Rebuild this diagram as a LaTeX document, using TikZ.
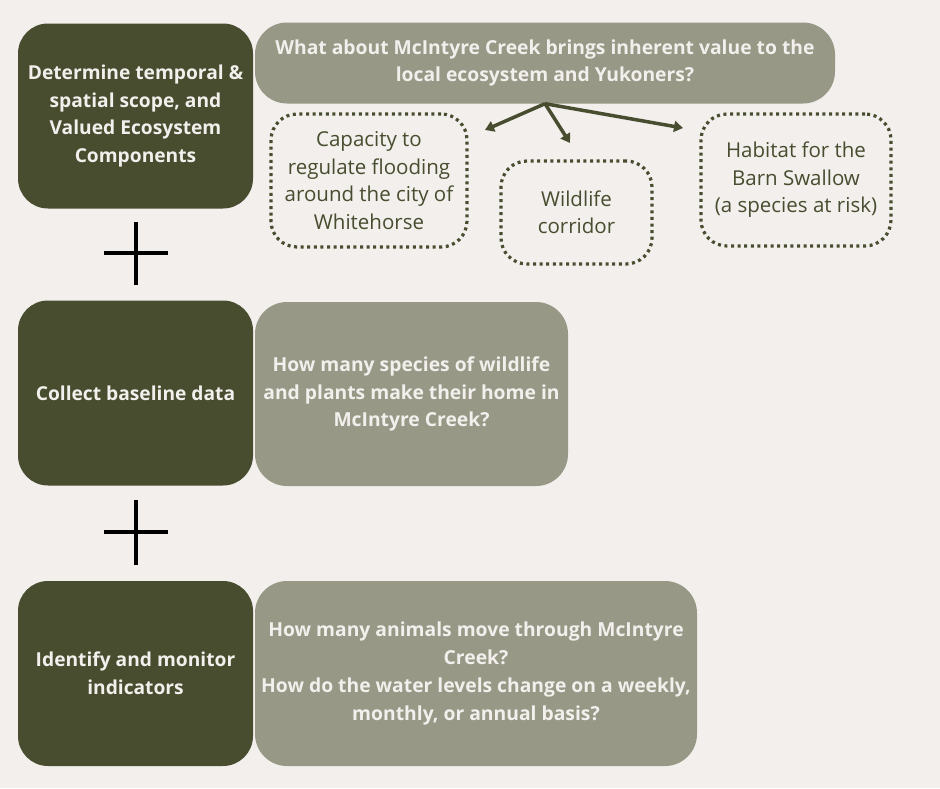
\documentclass[tikz,border=0pt]{standalone}
\usepackage{fontspec}
\setmainfont{Open Sans}
\usetikzlibrary{arrows.meta,positioning}
\definecolor{bgcream}{RGB}{242,239,236}
\definecolor{darkolive}{RGB}{71,77,46}
\definecolor{sagegrey}{RGB}{151,153,134}

\begin{document}
\begin{tikzpicture}[x=1pt, y=-1pt,
  stepbox/.style={fill=darkolive, rounded corners=30pt, minimum width=235pt, minimum height=185pt,
    inner sep=0pt, align=center, text=bgcream, font=\fontsize{19.2}{27.7}\selectfont\bfseries},
  question/.style={fill=sagegrey, rounded corners=32pt, inner sep=0pt, align=center,
    text=bgcream, font=\fontsize{19.3}{27.7}\selectfont\bfseries},
  valuebox/.style={draw=darkolive, line width=3.2pt, dash pattern=on 3pt off 3.6pt,
    rounded corners=26pt, inner sep=0pt, align=center, text=darkolive,
    font=\fontsize{20.5}{27.5}\selectfont},
  plus/.style={line width=3.2pt, black},
  >={Triangle[length=9pt, width=11pt]}
]
  % background
  \fill[bgcream] (0,0) rectangle (940,788);

  % Row 1
  \node[stepbox] (S1) at (135.5,116) {Determine temporal \&\\spatial scope, and\\Valued Ecosystem\\Components};
  \node[question, minimum width=580pt, minimum height=81pt] (Q1) at (545,63) {What about McIntyre Creek brings inherent value to the\\local ecosystem and Yukoners?};

  % Valued components
  \node[valuebox, minimum width=196pt, minimum height=133pt] (V1) at (369,180.5) {Capacity to\\regulate flooding\\around the city of\\Whitehorse};
  \node[valuebox, minimum width=151pt, minimum height=103pt] (V2) at (576.5,212.5) {Wildlife\\corridor};
  \node[valuebox, minimum width=190pt, minimum height=132pt] (V3) at (796,180) {Habitat for the\\Barn Swallow\\(a species at risk)};

  \coordinate (A1) at (485,130);
  \coordinate (A2) at (570,143);
  \coordinate (A3) at (683,128);
  \draw[->, darkolive, line width=3.5pt] (Q1.south) -- (A1);
  \draw[->, darkolive, line width=3.5pt] (Q1.south) -- (A2);
  \draw[->, darkolive, line width=3.5pt] (Q1.south) -- (A3);

  % plus 1
  \draw[plus] (136,222) -- (136,285);
  \draw[plus] (104,253) -- (168,253);

  % Row 2
  \node[stepbox] (S2) at (135.5,393) {Collect baseline data};
  \node[question, minimum width=313pt, minimum height=184pt] (Q2) at (411.5,394) {How many species of wildlife\\and plants make their home in\\McIntyre Creek?};

  % plus 2
  \draw[plus] (136,500) -- (136,565);
  \draw[plus] (104,532) -- (168,532);

  % Row 3
  \node[stepbox] (S3) at (135.5,673.5) {Identify and monitor\\indicators};
  \node[question, minimum width=442pt, minimum height=185pt] (Q3) at (476,673.5) {How many animals move through McIntyre\\Creek?\\How do the water levels change on a weekly,\\monthly, or annual basis?};
\end{tikzpicture}
\end{document}
